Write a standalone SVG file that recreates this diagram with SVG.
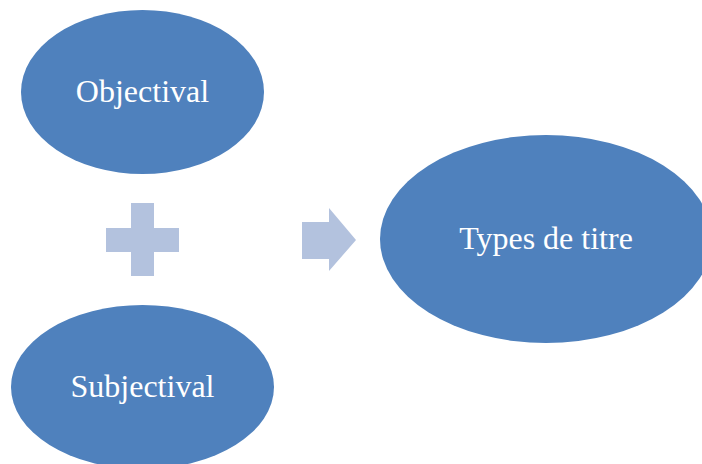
<svg xmlns="http://www.w3.org/2000/svg" width="702" height="464" viewBox="0 0 702 464">
<style>
.node{fill:#4F81BD;}
.sym{fill:#B3C2DE;}
.lbl{font-family:"Liberation Serif","Times New Roman",serif;font-size:32px;fill:#FFFFFF;text-anchor:middle;}
</style>
<rect width="702" height="464" fill="#FFFFFF"/>
<g id="objectival">
<ellipse class="node" cx="142.5" cy="92" rx="121.5" ry="82"/>
<text class="lbl" x="142.5" y="102">Objectival</text>
</g>
<g id="subjectival">
<ellipse class="node" cx="142.5" cy="387" rx="131.5" ry="82"/>
<text class="lbl" x="142.5" y="397">Subjectival</text>
</g>
<g id="types">
<ellipse class="node" cx="546" cy="239" rx="166" ry="104"/>
<text class="lbl" x="546" y="249">Types de titre</text>
</g>
<g id="connectors">
<path class="sym" d="M131,203 H154 V228 H179 V252 H154 V276 H131 V252 H106 V228 H131 Z"/>
<path class="sym" d="M302,222 H329 V208 L356,240 L329,271 V259 H302 Z"/>
</g>
</svg>
